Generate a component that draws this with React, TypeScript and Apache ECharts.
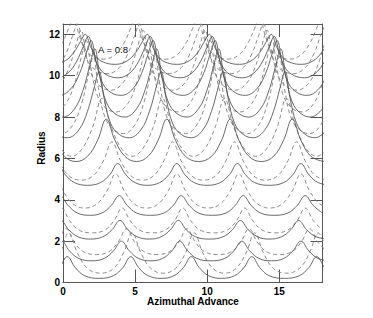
import React, { useEffect, useRef } from 'react';
import * as echarts from 'echarts';

const xTicks = [0, 5, 10, 15];
const yTicks = [0, 2, 4, 6, 8, 10, 12];
const annotation = 'A = 0.8';

// solid curves (bottom to top)
const S0 = [[-1.9,0.2],[-0.9,0.33],[-0.25,0.72],[0.3,1.25],[0.85,0.72],[1.5,0.33],[2.5,0.2],[3.5,0.33],[4.15,0.72],[4.7,1.25],[5.25,0.72],[5.9,0.33],[6.8,0.2],[7.7,0.33],[8.35,0.72],[8.9,1.25],[9.45,0.72],[10.1,0.33],[11.0,0.2],[11.9,0.33],[12.55,0.72],[13.1,1.25],[13.65,0.72],[14.3,0.33],[15.35,0.2],[16.4,0.33],[17.05,0.72],[17.6,1.25],[18.15,0.72],[18.8,0.33]];
const S1 = [[-2.1,1.05],[-1.3,1.16],[-0.65,1.53],[-0.1,2.0],[0.45,1.53],[1.1,1.16],[2.0,1.05],[2.85,1.16],[3.5,1.53],[4.05,2.0],[4.6,1.53],[5.25,1.16],[6.1,1.05],[6.9,1.16],[7.55,1.53],[8.1,2.0],[8.65,1.53],[9.3,1.16],[10.25,1.05],[11.2,1.16],[11.85,1.53],[12.4,2.0],[12.95,1.53],[13.6,1.16],[14.45,1.05],[15.3,1.16],[15.95,1.53],[16.5,2.0],[17.05,1.53],[17.7,1.16],[18.6,1.05]];
const S2 = [[-2.2,2.1],[-1.35,2.21],[-0.7,2.55],[-0.15,3.0],[0.4,2.55],[1.05,2.21],[1.9,2.1],[2.75,2.21],[3.4,2.55],[3.95,3.0],[4.5,2.55],[5.15,2.21],[6.0,2.1],[6.8,2.21],[7.45,2.55],[8.0,3.0],[8.55,2.55],[9.2,2.21],[10.15,2.1],[11.1,2.21],[11.75,2.55],[12.3,3.0],[12.85,2.55],[13.5,2.21],[14.3,2.1],[15.15,2.21],[15.8,2.55],[16.35,3.0],[16.9,2.55],[17.55,2.21],[18.4,2.1]];
const S3 = [[-2.2,3.25],[-1.4,3.36],[-0.75,3.73],[-0.2,4.2],[0.35,3.73],[1.0,3.36],[1.85,3.25],[2.7,3.36],[3.35,3.73],[3.9,4.2],[4.45,3.73],[5.1,3.36],[6.05,3.25],[7.0,3.36],[7.65,3.73],[8.2,4.2],[8.75,3.73],[9.4,3.36],[10.35,3.25],[11.3,3.36],[11.95,3.73],[12.5,4.2],[13.05,3.73],[13.7,3.36],[14.65,3.25],[15.6,3.36],[16.25,3.73],[16.8,4.2],[17.35,3.73],[18.0,3.36]];
const S4 = [[-2.5,4.7],[-1.6,4.83],[-0.95,5.22],[-0.4,5.75],[0.15,5.22],[0.8,4.83],[1.7,4.7],[2.6,4.83],[3.25,5.22],[3.8,5.75],[4.35,5.22],[5.0,4.83],[5.85,4.7],[6.7,4.83],[7.35,5.22],[7.9,5.75],[8.45,5.22],[9.1,4.83],[10.0,4.7],[10.9,4.83],[11.55,5.22],[12.1,5.75],[12.65,5.22],[13.3,4.83],[14.3,4.7],[15.3,4.83],[15.95,5.22],[16.5,5.75],[17.05,5.22],[17.7,4.83],[18.6,4.7]];
const S5 = [[-1.2,7.9],[-0.6,6.88],[0.1,6.1],[0.9,5.85],[1.7,6.1],[2.4,6.88],[3.0,7.9],[3.6,6.88],[4.3,6.1],[5.1,5.85],[5.9,6.1],[6.6,6.88],[7.2,7.9],[7.8,6.88],[8.5,6.1],[9.4,5.85],[10.3,6.1],[11.0,6.88],[11.6,7.9],[12.2,6.88],[12.9,6.1],[13.75,5.85],[14.6,6.1],[15.3,6.88],[15.9,7.9],[16.5,6.88],[17.2,6.1],[18.1,5.85]];
const S6 = [[-1.8,10.2],[-1.45,8.92],[-1.0,7.7],[-0.4,7.16],[0.3,7.0],[1.1,7.38],[1.7,8.28],[2.15,9.4],[2.5,10.2],[2.85,8.92],[3.3,7.7],[3.9,7.16],[4.6,7.0],[5.4,7.38],[6.0,8.28],[6.45,9.4],[6.8,10.2],[7.15,8.92],[7.6,7.7],[8.2,7.16],[8.9,7.0],[9.7,7.38],[10.3,8.28],[10.75,9.4],[11.1,10.2],[11.45,8.92],[11.9,7.7],[12.5,7.16],[13.2,7.0],[14.0,7.38],[14.6,8.28],[15.05,9.4],[15.4,10.2],[15.75,8.92],[16.2,7.7],[16.8,7.16],[17.5,7.0],[18.3,7.38]];
const S7 = [[-0.7,8.17],[0.0,8.0],[0.8,8.4],[1.4,9.32],[1.85,10.48],[2.2,11.3],[2.55,9.98],[3.0,8.73],[3.6,8.17],[4.3,8.0],[5.1,8.4],[5.7,9.32],[6.15,10.48],[6.5,11.3],[6.85,9.98],[7.3,8.73],[7.9,8.17],[8.6,8.0],[9.4,8.4],[10.0,9.32],[10.45,10.48],[10.8,11.3],[11.15,9.98],[11.6,8.73],[12.2,8.17],[12.9,8.0],[13.7,8.4],[14.3,9.32],[14.75,10.48],[15.1,11.3],[15.45,9.98],[15.9,8.73],[16.5,8.17],[17.2,8.0],[18.0,8.4]];
const S8 = [[-0.95,9.18],[-0.25,9.05],[0.55,9.37],[1.15,10.11],[1.6,11.04],[1.95,11.7],[2.3,10.64],[2.75,9.63],[3.35,9.18],[4.05,9.05],[4.85,9.37],[5.45,10.11],[5.9,11.04],[6.25,11.7],[6.6,10.64],[7.05,9.63],[7.65,9.18],[8.35,9.05],[9.15,9.37],[9.75,10.11],[10.2,11.04],[10.55,11.7],[10.9,10.64],[11.35,9.63],[11.95,9.18],[12.65,9.05],[13.45,9.37],[14.05,10.11],[14.5,11.04],[14.85,11.7],[15.2,10.64],[15.65,9.63],[16.25,9.18],[16.95,9.05],[17.75,9.37],[18.35,10.11]];
const S9 = [[-1.15,10.0],[-0.45,9.9],[0.35,10.14],[0.95,10.7],[1.4,11.4],[1.75,11.9],[2.1,11.1],[2.55,10.34],[3.15,10.0],[3.85,9.9],[4.65,10.14],[5.25,10.7],[5.7,11.4],[6.05,11.9],[6.4,11.1],[6.85,10.34],[7.45,10.0],[8.15,9.9],[8.95,10.14],[9.55,10.7],[10.0,11.4],[10.35,11.9],[10.7,11.1],[11.15,10.34],[11.75,10.0],[12.45,9.9],[13.25,10.14],[13.85,10.7],[14.3,11.4],[14.65,11.9],[15.0,11.1],[15.45,10.34],[16.05,10.0],[16.75,9.9],[17.55,10.14],[18.15,10.7]];
const S10 = [[-1.35,10.62],[-0.65,10.55],[0.15,10.72],[0.75,11.13],[1.2,11.64],[1.55,12.0],[1.9,11.42],[2.35,10.87],[2.95,10.62],[3.65,10.55],[4.45,10.72],[5.05,11.13],[5.5,11.64],[5.85,12.0],[6.2,11.42],[6.65,10.87],[7.25,10.62],[7.95,10.55],[8.75,10.72],[9.35,11.13],[9.8,11.64],[10.15,12.0],[10.5,11.42],[10.95,10.87],[11.55,10.62],[12.25,10.55],[13.05,10.72],[13.65,11.13],[14.1,11.64],[14.45,12.0],[14.8,11.42],[15.25,10.87],[15.85,10.62],[16.55,10.55],[17.35,10.72],[17.95,11.13],[18.4,11.64]];

// dashed curves (bottom to top)
const D0 = [[-1.8,0.45],[-0.9,0.68],[-0.2,1.43],[0.4,2.4],[1.0,1.43],[1.7,0.68],[2.6,0.45],[3.5,0.68],[4.2,1.43],[4.8,2.4],[5.4,1.43],[6.1,0.68],[6.95,0.45],[7.8,0.68],[8.5,1.43],[9.1,2.4],[9.7,1.43],[10.4,0.68],[11.2,0.45],[12.0,0.68],[12.7,1.43],[13.3,2.4],[13.9,1.43],[14.6,0.68],[15.5,0.45],[16.4,0.68],[17.1,1.43],[17.7,2.4],[18.3,1.43]];
const D1 = [[-1.9,1.35],[-1.0,1.5],[-0.35,1.98],[0.2,2.6],[0.75,1.98],[1.4,1.5],[2.3,1.35],[3.2,1.5],[3.85,1.98],[4.4,2.6],[4.95,1.98],[5.6,1.5],[6.5,1.35],[7.4,1.5],[8.05,1.98],[8.6,2.6],[9.15,1.98],[9.8,1.5],[10.75,1.35],[11.7,1.5],[12.35,1.98],[12.9,2.6],[13.45,1.98],[14.1,1.5],[15.0,1.35],[15.9,1.5],[16.55,1.98],[17.1,2.6],[17.65,1.98],[18.3,1.5]];
const D2 = [[-2.2,2.4],[-1.3,2.54],[-0.65,3.0],[-0.1,3.6],[0.45,3.0],[1.1,2.54],[2.0,2.4],[2.9,2.54],[3.55,3.0],[4.1,3.6],[4.65,3.0],[5.3,2.54],[6.2,2.4],[7.1,2.54],[7.75,3.0],[8.3,3.6],[8.85,3.0],[9.5,2.54],[10.45,2.4],[11.4,2.54],[12.05,3.0],[12.6,3.6],[13.15,3.0],[13.8,2.54],[14.7,2.4],[15.6,2.54],[16.25,3.0],[16.8,3.6],[17.35,3.0],[18.0,2.54]];
const D3 = [[-2.7,3.6],[-1.9,3.8],[-1.2,4.43],[-0.6,5.25],[0.0,4.43],[0.7,3.8],[1.5,3.6],[2.35,3.8],[3.05,4.43],[3.65,5.25],[4.25,4.43],[4.95,3.8],[5.8,3.6],[6.6,3.8],[7.3,4.43],[7.9,5.25],[8.5,4.43],[9.2,3.8],[10.05,3.6],[10.9,3.8],[11.6,4.43],[12.2,5.25],[12.8,4.43],[13.5,3.8],[14.35,3.6],[15.2,3.8],[15.9,4.43],[16.5,5.25],[17.1,4.43],[17.8,3.8],[18.6,3.6]];
const D4 = [[-3.0,4.95],[-2.2,5.17],[-1.5,5.88],[-0.9,6.8],[-0.3,5.88],[0.4,5.17],[1.25,4.95],[2.1,5.17],[2.8,5.88],[3.4,6.8],[4.0,5.88],[4.7,5.17],[5.5,4.95],[6.3,5.17],[7.0,5.88],[7.6,6.8],[8.2,5.88],[8.9,5.17],[9.75,4.95],[10.6,5.17],[11.3,5.88],[11.9,6.8],[12.5,5.88],[13.2,5.17],[14.05,4.95],[14.9,5.17],[15.6,5.88],[16.2,6.8],[16.8,5.88],[17.5,5.17],[18.35,4.95]];
const D5 = [[-1.5,8.9],[-0.85,7.5],[-0.1,6.44],[0.6,6.1],[1.3,6.44],[2.05,7.5],[2.7,8.9],[3.35,7.5],[4.1,6.44],[4.8,6.1],[5.5,6.44],[6.25,7.5],[6.9,8.9],[7.55,7.5],[8.3,6.44],[9.05,6.1],[9.8,6.44],[10.55,7.5],[11.2,8.9],[11.85,7.5],[12.6,6.44],[13.35,6.1],[14.1,6.44],[14.85,7.5],[15.5,8.9],[16.15,7.5],[16.9,6.44],[17.6,6.1],[18.3,6.44]];
const D6 = [[-2.2,10.9],[-1.85,9.42],[-1.4,8.01],[-0.8,7.39],[-0.1,7.2],[0.7,7.64],[1.3,8.68],[1.75,9.98],[2.1,10.9],[2.45,9.42],[2.9,8.01],[3.5,7.39],[4.2,7.2],[5.0,7.64],[5.6,8.68],[6.05,9.98],[6.4,10.9],[6.75,9.42],[7.2,8.01],[7.8,7.39],[8.5,7.2],[9.3,7.64],[9.9,8.68],[10.35,9.98],[10.7,10.9],[11.05,9.42],[11.5,8.01],[12.1,7.39],[12.8,7.2],[13.6,7.64],[14.2,8.68],[14.65,9.98],[15.0,10.9],[15.35,9.42],[15.8,8.01],[16.4,7.39],[17.1,7.2],[17.9,7.64],[18.5,8.68]];
const D7 = [[-1.3,8.42],[-0.6,8.25],[0.2,8.66],[0.8,9.63],[1.25,10.84],[1.6,11.7],[1.95,10.32],[2.4,9.01],[3.0,8.42],[3.7,8.25],[4.5,8.66],[5.1,9.63],[5.55,10.84],[5.9,11.7],[6.25,10.32],[6.7,9.01],[7.3,8.42],[8.0,8.25],[8.8,8.66],[9.4,9.63],[9.85,10.84],[10.2,11.7],[10.55,10.32],[11.0,9.01],[11.6,8.42],[12.3,8.25],[13.1,8.66],[13.7,9.63],[14.15,10.84],[14.5,11.7],[14.85,10.32],[15.3,9.01],[15.9,8.42],[16.6,8.25],[17.4,8.66],[18.0,9.63]];
const D8 = [[-1.65,9.45],[-0.95,9.3],[-0.15,9.65],[0.45,10.46],[0.9,11.48],[1.25,12.2],[1.6,11.04],[2.05,9.94],[2.65,9.45],[3.35,9.3],[4.15,9.65],[4.75,10.46],[5.2,11.48],[5.55,12.2],[5.9,11.04],[6.35,9.94],[6.95,9.45],[7.65,9.3],[8.45,9.65],[9.05,10.46],[9.5,11.48],[9.85,12.2],[10.2,11.04],[10.65,9.94],[11.25,9.45],[11.95,9.3],[12.75,9.65],[13.35,10.46],[13.8,11.48],[14.15,12.2],[14.5,11.04],[14.95,9.94],[15.55,9.45],[16.25,9.3],[17.05,9.65],[17.65,10.46],[18.1,11.48]];
const D9 = [[-1.9,10.22],[-1.2,10.1],[-0.4,10.39],[0.2,11.06],[0.65,11.9],[1.0,12.5],[1.35,11.54],[1.8,10.63],[2.4,10.22],[3.1,10.1],[3.9,10.39],[4.5,11.06],[4.95,11.9],[5.3,12.5],[5.65,11.54],[6.1,10.63],[6.7,10.22],[7.4,10.1],[8.2,10.39],[8.8,11.06],[9.25,11.9],[9.6,12.5],[9.95,11.54],[10.4,10.63],[11.0,10.22],[11.7,10.1],[12.5,10.39],[13.1,11.06],[13.55,11.9],[13.9,12.5],[14.25,11.54],[14.7,10.63],[15.3,10.22],[16.0,10.1],[16.8,10.39],[17.4,11.06],[17.85,11.9],[18.2,12.5]];
const D10 = [[-2.15,10.9],[-1.45,10.8],[-0.65,11.04],[-0.05,11.6],[0.4,12.3],[0.75,12.8],[1.1,12.0],[1.55,11.24],[2.15,10.9],[2.85,10.8],[3.65,11.04],[4.25,11.6],[4.7,12.3],[5.05,12.8],[5.4,12.0],[5.85,11.24],[6.45,10.9],[7.15,10.8],[7.95,11.04],[8.55,11.6],[9.0,12.3],[9.35,12.8],[9.7,12.0],[10.15,11.24],[10.75,10.9],[11.45,10.8],[12.25,11.04],[12.85,11.6],[13.3,12.3],[13.65,12.8],[14.0,12.0],[14.45,11.24],[15.05,10.9],[15.75,10.8],[16.55,11.04],[17.15,11.6],[17.6,12.3],[17.95,12.8],[18.3,12.0]];

const solidCurves = [S0, S1, S2, S3, S4, S5, S6, S7, S8, S9, S10];
const dashedCurves = [D0, D1, D2, D3, D4, D5, D6, D7, D8, D9, D10];

const FONT = 'Liberation Sans, Arial, Helvetica, sans-serif';

export default function App() {
  const ref = useRef<HTMLDivElement>(null);
  useEffect(() => {
    const chart = echarts.init(ref.current as HTMLDivElement, null, { renderer: 'svg' });
    const axisLine = { show: true, onZero: false, lineStyle: { color: '#555', width: 1 } };
    const tickStyle = { color: '#555', width: 1 };
    const labelStyle = { fontFamily: FONT, fontSize: 10, fontWeight: 'bold', color: '#000', lineHeight: 10 };
    const fmt = (list: number[]) => (v: number) => (list.indexOf(v) >= 0 ? String(v) : '');
    const series: any[] = [];
    dashedCurves.forEach((d, i) => {
      series.push({
        type: 'line', name: 'dashed' + i, data: d, showSymbol: false, smooth: 0.4, clip: true, silent: true,
        lineStyle: { color: '#808080', width: 0.9, type: [4, 3] },
      });
    });
    solidCurves.forEach((d, i) => {
      series.push({
        type: 'line', name: 'solid' + i, data: d, showSymbol: false, smooth: 0.4, clip: true, silent: true,
        lineStyle: { color: '#505050', width: 0.85, type: 'solid' },
      });
    });
    chart.setOption({
      animation: false,
      backgroundColor: '#fff',
      grid: { left: 63, right: 50.5, top: 24, bottom: 35.5, containLabel: false },
      xAxis: [
        {
          type: 'value', position: 'bottom', min: 0, max: 18, interval: 5,
          axisLine, splitLine: { show: false },
          axisTick: { show: true, inside: true, length: 13, lineStyle: tickStyle },
          axisLabel: { ...labelStyle, margin: 4, showMaxLabel: false, formatter: fmt(xTicks) },
        },
        {
          type: 'value', position: 'top', min: 0, max: 18, interval: 5,
          axisLine, splitLine: { show: false },
          axisTick: { show: true, inside: true, length: 13, lineStyle: tickStyle },
          axisLabel: { show: false },
        },
      ],
      yAxis: [
        {
          type: 'value', position: 'left', min: 0, max: 12.5, interval: 2,
          axisLine, splitLine: { show: false },
          axisTick: { show: true, inside: true, length: 12, lineStyle: tickStyle },
          axisLabel: { ...labelStyle, margin: 3, showMaxLabel: false, formatter: fmt(yTicks) },
        },
        {
          type: 'value', position: 'right', min: 0, max: 12.5, interval: 2,
          axisLine, splitLine: { show: false },
          axisTick: { show: true, inside: true, length: 12, lineStyle: tickStyle },
          axisLabel: { show: false },
        },
      ],
      graphic: [
        { type: 'text', x: 193, y: 301, style: { text: 'Azimuthal Advance', fontFamily: FONT, fontSize: 10, lineHeight: 10, fontWeight: 'bold', fill: '#000', align: 'center', verticalAlign: 'middle' } },
        { type: 'text', x: 41, y: 148, rotation: Math.PI / 2, style: { text: 'Radius', fontFamily: FONT, fontSize: 10, fontWeight: 'bold', fill: '#000', align: 'center', verticalAlign: 'middle' } },
        { type: 'text', x: 113, y: 49, style: { text: annotation, fontFamily: FONT, fontSize: 9.5, fill: '#000', align: 'center', verticalAlign: 'middle' } },
      ],
      series,
    });
    return () => chart.dispose();
  }, []);
  return <div ref={ref} style={{ position: 'absolute', left: 0, top: 0, width: 373, height: 318 }} />;
}
